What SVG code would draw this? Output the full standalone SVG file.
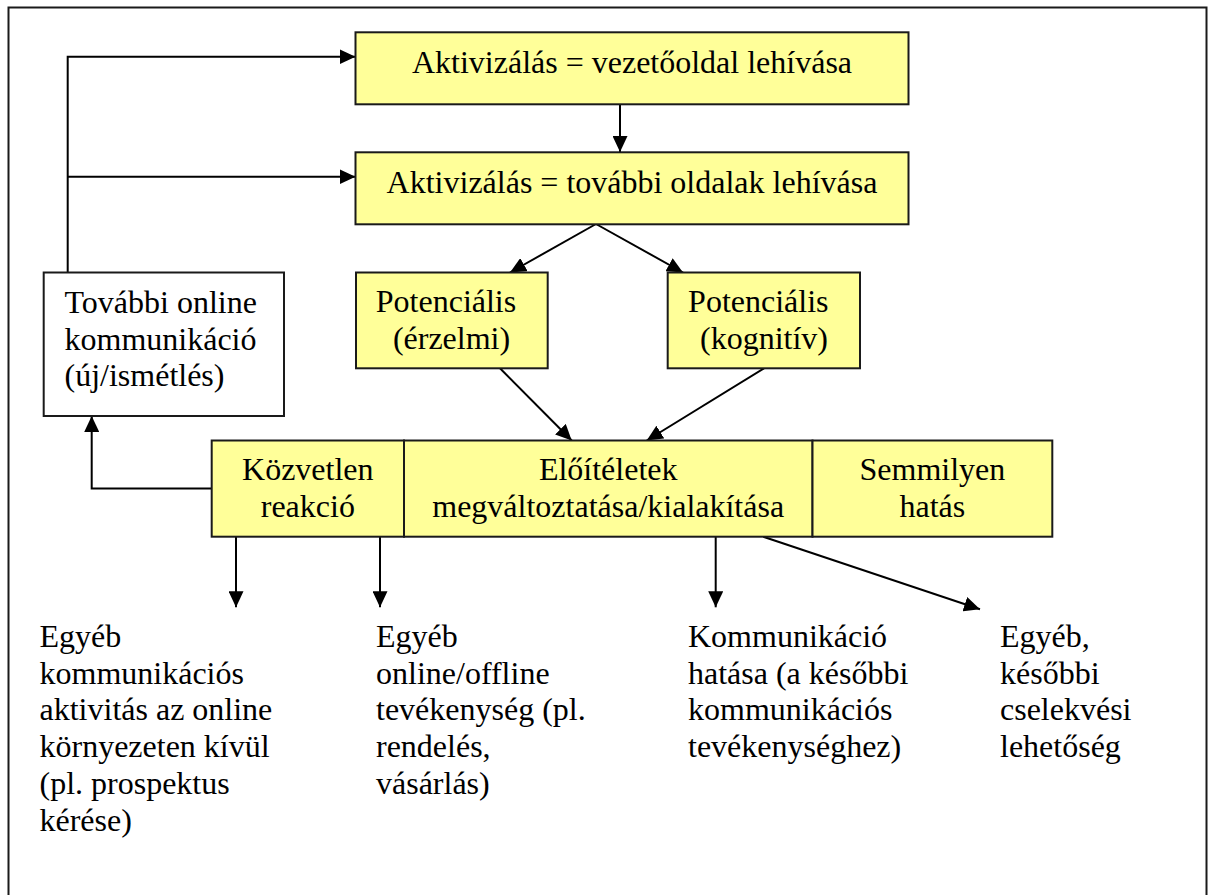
<svg xmlns="http://www.w3.org/2000/svg" width="1208" height="895" viewBox="0 0 1208 895">
  <style>
    .box { fill: #FFFF99; stroke: #1a1a1a; stroke-width: 2; }
    .plain { fill: #FFFFFF; stroke: #1a1a1a; stroke-width: 2; }
    .frame { fill: none; stroke: #1a1a1a; stroke-width: 2; }
    .t { font-family: "Liberation Serif", "Times New Roman", serif; font-size: 32px; fill: #000; }
    .c { text-anchor: middle; }
    .conn { fill: none; stroke: #000; stroke-width: 2; }
  </style>
  <defs>
    <marker id="arrow" markerUnits="userSpaceOnUse" markerWidth="16" markerHeight="15" refX="16" refY="7.5" orient="auto">
      <path d="M0,0 L16,7.5 L0,15 Z" fill="#000"/>
    </marker>
  </defs>

  <rect width="1208" height="895" fill="#FFFFFF"/>
  <!-- outer frame -->
  <rect class="frame" x="8.5" y="7.5" width="1198" height="900"/>

  <!-- connectors -->
  <g id="connectors">
    <polyline class="conn" points="67.7,272.5 67.7,56.7 355.5,56.7" marker-end="url(#arrow)"/>
    <line class="conn" x1="67.7" y1="176.7" x2="355.5" y2="176.7" marker-end="url(#arrow)"/>
    <line class="conn" x1="620" y1="104" x2="620" y2="152" marker-end="url(#arrow)"/>
    <line class="conn" x1="596" y1="224" x2="510" y2="272.5" marker-end="url(#arrow)"/>
    <line class="conn" x1="596" y1="224" x2="683" y2="272.5" marker-end="url(#arrow)"/>
    <line class="conn" x1="500" y1="368.3" x2="571.7" y2="440.5" marker-end="url(#arrow)"/>
    <line class="conn" x1="764" y1="368.3" x2="646.7" y2="440.5" marker-end="url(#arrow)"/>
    <polyline class="conn" points="211.7,488.5 91.7,488.5 91.7,416" marker-end="url(#arrow)"/>
    <line class="conn" x1="236" y1="536.7" x2="236" y2="607.3" marker-end="url(#arrow)"/>
    <line class="conn" x1="380" y1="536.7" x2="380" y2="607.3" marker-end="url(#arrow)"/>
    <line class="conn" x1="715.7" y1="536.7" x2="715.7" y2="607.3" marker-end="url(#arrow)"/>
    <line class="conn" x1="763.3" y1="536.7" x2="980" y2="609.3" marker-end="url(#arrow)"/>
  </g>

  <g id="aktivizalas-vezetooldal">
    <rect class="box" x="355.5" y="32.3" width="553" height="72"/>
    <text class="t c" x="632" y="73">Aktivizálás = vezetőoldal lehívása</text>
  </g>

  <g id="aktivizalas-tovabbi">
    <rect class="box" x="355.5" y="152.3" width="553" height="72"/>
    <text class="t c" x="632" y="193">Aktivizálás = további oldalak lehívása</text>
  </g>

  <g id="tovabbi-online">
    <rect class="plain" x="43.7" y="272.5" width="240.3" height="143.5"/>
    <text class="t" x="64.5" y="312.7">További online</text>
    <text class="t" x="64.5" y="349.5">kommunikáció</text>
    <text class="t" x="64.5" y="386.3">(új/ismétlés)</text>
  </g>

  <g id="potencialis-erzelmi">
    <rect class="box" x="356" y="272.5" width="191.7" height="95.8"/>
    <text class="t c" x="446" y="311.7">Potenciális</text>
    <text class="t c" x="451.5" y="348.5">(érzelmi)</text>
  </g>

  <g id="potencialis-kognitiv">
    <rect class="box" x="667.7" y="272.5" width="192.3" height="95.8"/>
    <text class="t c" x="758.3" y="311.7">Potenciális</text>
    <text class="t c" x="764" y="348.5">(kognitív)</text>
  </g>

  <g id="kozvetlen-reakcio">
    <rect class="box" x="211.7" y="440.5" width="192.3" height="96.2"/>
    <text class="t c" x="307.8" y="480">Közvetlen</text>
    <text class="t c" x="307.8" y="517">reakció</text>
  </g>

  <g id="eloiteletek">
    <rect class="box" x="404" y="440.5" width="408.5" height="96.2"/>
    <text class="t c" x="608.2" y="480">Előítéletek</text>
    <text class="t c" x="608.2" y="517">megváltoztatása/kialakítása</text>
  </g>

  <g id="semmilyen-hatas">
    <rect class="box" x="812.5" y="440.5" width="239.8" height="96.2"/>
    <text class="t c" x="932.4" y="480">Semmilyen</text>
    <text class="t c" x="932.4" y="517">hatás</text>
  </g>

  <g id="egyeb-kommunikacios">
    <text class="t" x="39.5" y="646.7">Egyéb</text>
    <text class="t" x="39.5" y="683.5">kommunikációs</text>
    <text class="t" x="39.5" y="720.2">aktivitás az online</text>
    <text class="t" x="39.5" y="757">környezeten kívül</text>
    <text class="t" x="39.5" y="793.7">(pl. prospektus</text>
    <text class="t" x="39.5" y="830.5">kérése)</text>
  </g>

  <g id="egyeb-online-offline">
    <text class="t" x="376" y="646.7">Egyéb</text>
    <text class="t" x="376" y="683.5">online/offline</text>
    <text class="t" x="376" y="720.2">tevékenység (pl.</text>
    <text class="t" x="376" y="757">rendelés,</text>
    <text class="t" x="376" y="793.7">vásárlás)</text>
  </g>

  <g id="kommunikacio-hatasa">
    <text class="t" x="688" y="646.7">Kommunikáció</text>
    <text class="t" x="688" y="683.5">hatása (a későbbi</text>
    <text class="t" x="688" y="720.2">kommunikációs</text>
    <text class="t" x="688" y="757">tevékenységhez)</text>
  </g>

  <g id="egyeb-kesobbi">
    <text class="t" x="1000" y="646.7">Egyéb,</text>
    <text class="t" x="1000" y="683.5">későbbi</text>
    <text class="t" x="1000" y="720.2">cselekvési</text>
    <text class="t" x="1000" y="757">lehetőség</text>
  </g>
</svg>
